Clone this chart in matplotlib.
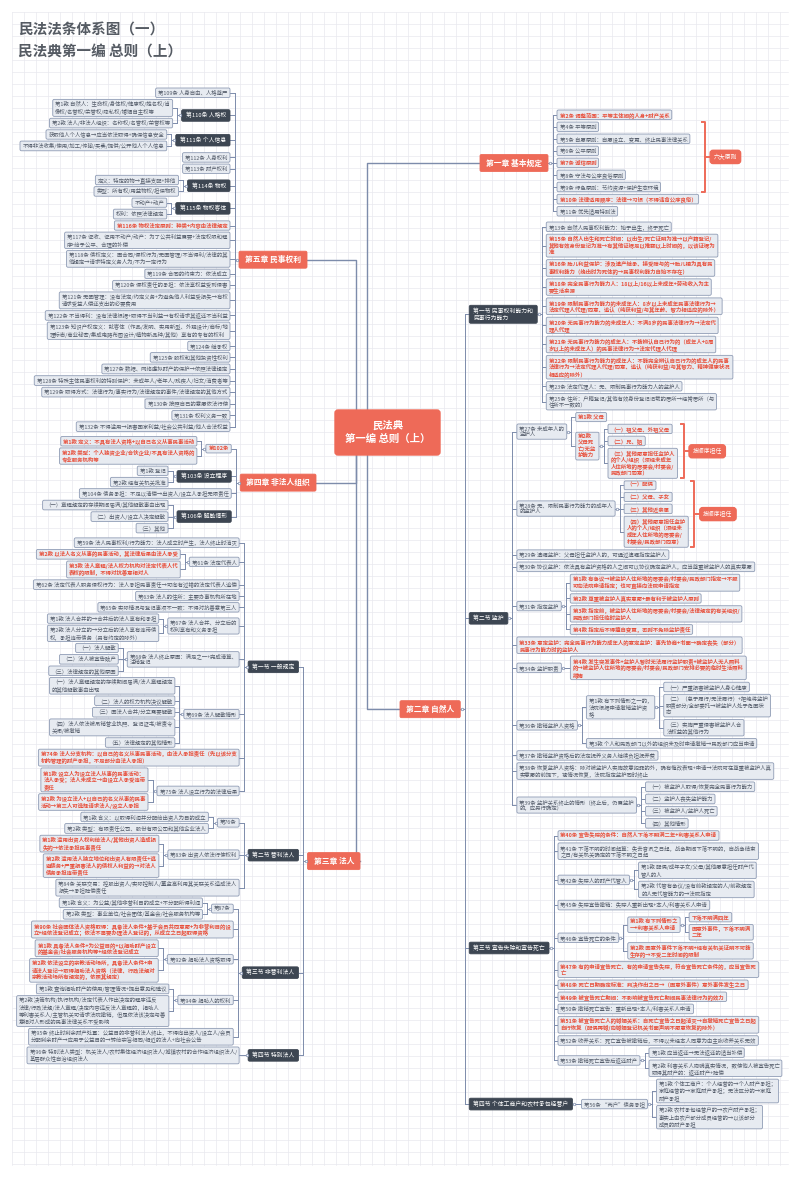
import matplotlib
matplotlib.use('Agg')
import matplotlib.pyplot as plt
from matplotlib.patches import FancyBboxPatch

plt.rcParams['font.family'] = ['Noto Sans CJK SC', 'DejaVu Sans']


def n(text, kind='n', kids=None, brace=None):
    return {'text': text, 'kind': kind, 'kids': kids or [], 'brace': brace}


# ---------------- data ----------------
title_lines = ['民法法条体系图（一）', '民法典第一编 总则（上）']
root_text = '民法典\n第一编 总则（上）'

ch5 = n('第五章 民事权利', 'c', [
    n('第109条 人身自由、人格尊严'),
    n('第110条 人格权', 'd', [
        n('第1款 自然人：生命权/身体权/健康权/姓名权/肖\n像权/名誉权/荣誉权/隐私权/婚姻自主权等'),
        n('第2款 法人/非法人组织：名称权/名誉权/荣誉权等')]),
    n('第111条 个人信息', 'd', [
        n('获取他人个人信息→应当依法取得+确保信息安全'),
        n('不得非法收集/使用/加工/传输/买卖/提供/公开他人个人信息')]),
    n('第112条 人身权利'),
    n('第113条 财产权利'),
    n('第114条 物权', 'd', [
        n('定义：特定的物→直接支配+排他'),
        n('类型：所有权/用益物权/担保物权')]),
    n('第115条 物权客体', 'd', [
        n('不动产+动产'),
        n('权利：依照法律规定')]),
    n('第116条 物权法定原则：种类+内容由法律规定', 'r'),
    n('第117条 征收、征用不动产/动产：为了公共利益需要+法定权限和程\n序+给予公平、合理的补偿'),
    n('第118条 债权定义：因合同/侵权行为/无因管理/不当得利/法律的其\n他规定→请求特定义务人为/不为一定行为'),
    n('第119条 合同的约束力：依法成立'),
    n('第120条 侵权责任的承担：依法享权益受到侵害'),
    n('第121条 无因管理：没有法定/约定义务+为避免他人利益受损失→有权\n请求受益人偿还支出的必要费用'),
    n('第122条 不当得利：没有法律根据+取得不当利益→有权请求其返还不当利益'),
    n('第123条 知识产权定义：就客体（作品/发明、实用新型、外观设计/商标/地\n理标志/商业秘密/集成电路布图设计/植物新品种/其他）享有的专有的权利'),
    n('第124条 继承权'),
    n('第125条 股权和其他投资性权利'),
    n('第127条 数据、网络虚拟财产的保护→依照法律规定'),
    n('第128条 特殊主体民事权利的特别保护：未成年人/老年人/残疾人/妇女/消费者等'),
    n('第129条 取得方式：法律行为/事实行为/法律规定的事件/法律规定的其他方式'),
    n('第130条 按照自己的意愿依法行使'),
    n('第131条 权利义务一致'),
    n('第132条 不得滥用→损害国家利益/社会公共利益/他人合法权益'),
])

ch4 = n('第四章 非法人组织', 'c', [
    n('第102条', 'r', [
        n('第1款 定义：不具有法人资格+以自己名义从事民事活动', 'r'),
        n('第2款 类型：个人独资企业/合伙企业/不具有法人资格的\n专业服务机构等', 'r')]),
    n('第103条 设立程序', 'd', [n('第1款 登记'), n('第2款 经有关机关批准')]),
    n('第104条 债务承担：不足以清偿→出资人/设立人承担无限责任'),
    n('第106条 解散情形', 'd', [
        n('（一）章程规定的存续期间届满/其他解散事由出现'),
        n('（二）出资人/设立人决定解散'),
        n('（三）其他')]),
])

ch3 = n('第三章 法人', 'c', [
    n('第一节 一般规定', 'd', [
        n('第59条 法人民事权利/行为能力：法人成立时产生，法人终止时消灭'),
        n('第61条 法定代表人', 'n', [
            n('第2款 以法人名义从事的民事活动，其法律后果由法人承受', 'r'),
            n('第3款 法人章程/法人权力机构对法定代表人代\n表权的限制，不得对抗善意相对人', 'r')]),
        n('第62条 法定代表人职务侵权行为：法人承担民事责任→可向有过错的法定代表人追偿'),
        n('第63条 法人的住所：主要办事机构所在地'),
        n('第65条 实际情况与登记事项不一致：不得对抗善意第三人'),
        n('第67条 法人合并、分立后的\n权利享有和义务承担', 'n', [
            n('第1款 法人合并的→合并后的法人享有和承担'),
            n('第2款 法人分立的→分立后的法人享有连带债\n权，承担连带债务（另有约定的除外）')]),
        n('第68条 法人终止原因：满足之一+完成清算、\n注销登记', 'n', [
            n('（一）法人解散'), n('（二）法人被宣告破产'), n('（三）法律规定的其他原因')]),
        n('第69条 法人解散情形', 'n', [
            n('（一）法人章程规定的存续期间届满/法人章程规定\n的其他解散事由出现'),
            n('（二）法人的权力机构决议解散'),
            n('（三）因法人合并/分立需要解散'),
            n('（四）法人依法被吊销营业执照、登记证书/被责令\n关闭/被撤销'),
            n('（五）法律规定的其他情形')]),
        n('第74条 法人分支机构：以自己的名义从事民事活动，由法人承担责任（先以该分支\n机构管理的财产承担，不足部分由法人承担）', 'r'),
        n('第75条 法人设立行为的法律后果', 'n', [
            n('第1款 设立人为设立法人从事的民事活动：\n法人承受；法人未成立→由设立人承受连带\n责任', 'r'),
            n('第2款 为设立法人+以自己的名义从事的民事\n活动→第三人可选择请求法人/设立人承担', 'r')]),
    ]),
    n('第二节 营利法人', 'd', [
        n('第76条', 'n', [
            n('第1款 含义：以取得利润并分配给出资人为目的成立'),
            n('第2款 类型：有限责任公司、股份有限公司和其他企业法人')]),
        n('第83条 出资人依法行使权利', 'n', [
            n('第1款 滥用出资人权利给法人/其他出资人造成损\n失的→依法承担民事责任', 'r'),
            n('第2款 滥用法人独立地位和出资人有限责任+逃\n避债务+严重损害法人的债权人利益的→对法人\n债务承担连带责任', 'r')]),
        n('第84条 关联交易：控股出资人/实际控制人/董监高利用其关联关系造成法人\n损失→承担赔偿责任'),
    ]),
    n('第三节 非营利法人', 'd', [
        n('第87条', 'n', [
            n('第1款 含义：为公益/其他非营利目的成立+不分配所得利润'),
            n('第2款 类型：事业单位/社会团体/基金会/社会服务机构等')]),
        n('第90条 社会团体法人资格取得：具备法人条件+基于会员共同意愿+为非营利目的设\n立+经依法登记成立；依法不需要办理法人登记的，从成立之日起取得资格', 'r'),
        n('第92条 捐助法人资格取得', 'n', [
            n('第1款 具备法人条件+为公益目的+以捐助财产设立\n的基金会/社会服务机构等+经依法登记成立', 'r'),
            n('第2款 依法设立的宗教活动场所，具备法人条件+申\n请法人登记→取得捐助法人资格（法律、行政法规对\n宗教活动场所有规定的，依照其规定）', 'r')]),
        n('第94条 捐助人的权利', 'n', [
            n('第1款 查询捐助财产的使用/管理情况+提出意见和建议'),
            n('第2款 决策机构/执行机构/法定代表人作出决定的程序违反\n法律/行政法规/法人章程/决定内容违反法人章程的，捐助人\n等利害关系人/主管机关可请求法院撤销，但是依法该决定与善\n意相对人形成的民事法律关系不受影响')]),
        n('第95条 终止时剩余财产处置：公益目的非营利法人终止，不得向出资人/设立人/会员\n分配剩余财产→应用于公益目的→转给宗旨相同/相近的法人+向社会公告'),
    ]),
    n('第四节 特别法人', 'd', [
        n('第96条 特别法人类型：机关法人/农村集体经济组织法人/城镇农村的合作经济组织法人/\n基层群众性自治组织法人')]),
])

ch1 = n('第一章 基本规定', 'c', [
    n('第2条 调整范围：平等主体间的人身+财产关系', 'r'),
    n('第4条 平等原则'),
    n('第5条 自愿原则：自愿设立、变更、终止民事法律关系'),
    n('第6条 公平原则'),
    n('第7条 诚信原则', 'r'),
    n('第8条 守法与公序良俗原则'),
    n('第9条 绿色原则：节约资源+保护生态环境'),
    n('第10条 法律适用顺序：法律→习惯（不得违背公序良俗）', 'r'),
    n('第11条 优先适用特别法'),
], brace=(1, 6, '六大原则'))

ch2 = n('第二章 自然人', 'c', [
    n('第一节 民事权利能力和\n民事行为能力', 'd', [
        n('第13条 自然人民事权利能力：始于出生，终于死亡'),
        n('第15条 自然人出生和死亡时间：以出生/死亡证明为准→以户籍登记/\n其他有效身份登记为准→有其他证据足以推翻以上时间的，以该证据为\n准', 'r'),
        n('第16条 胎儿利益保护：涉及遗产继承、接受赠与的→胎儿视为具有民\n事权利能力（娩出时为死体的→民事权利能力自始不存在）', 'r'),
        n('第18条 完全民事行为能力人：18以上/16以上未成年+劳动收入为主\n要生活来源', 'r'),
        n('第19条 限制民事行为能力的未成年人：8岁以上未成年民事法律行为→\n法定代理人代理/同意、追认（纯获利益/与其年龄、智力相适应的除外）', 'r'),
        n('第20条 无民事行为能力的未成年人：不满8岁的民事法律行为→法定代\n理人代理', 'r'),
        n('第21条 无民事行为能力的成年人：不能辨认自己行为的（成年人+8周\n岁以上的未成年人）的民事法律行为→法定代理人代理', 'r'),
        n('第22条 限制民事行为能力的成年人：不能完全辨认自己行为的成年人的民事\n法律行为→法定代理人代理/同意、追认（纯获利益/与其智力、精神健康状况\n相适应的除外）', 'r'),
        n('第23条 法定代理人：无、限制民事行为能力人的监护人'),
        n('第25条 住所：户籍登记/其他有效身份登记记载的居所→经常居所（与\n住所不一致的）'),
    ]),
    n('第二节 监护', 'd', [
        n('第27条 未成年人的\n监护人', 'n', [
            n('第1款 父母', 'r'),
            n('第2款\n父母死\n亡/无监\n护能力', 'r', [
                n('（一）祖父母、外祖父母', 'r'),
                n('（二）兄、姐', 'r'),
                n('（三）其他愿意担任监护人\n的个人/组织（须经未成年\n人住所地的居委会/村委会/\n民政部门同意）', 'r')], brace=(0, 2, '按顺序担任'))]),
        n('第28条 无、限制民事行为能力的成年人\n的监护人', 'n', [
            n('（一）配偶', 'r'),
            n('（二）父母、子女', 'r'),
            n('（三）其他近亲属', 'r'),
            n('（四）其他愿意担任监护\n人的个人/组织（须经未\n成年人住所地的居委会/\n村委会/民政部门同意）', 'r')], brace=(0, 3, '按顺序担任')),
        n('第29条 遗嘱监护：父母担任监护人的，可通过遗嘱指定监护人'),
        n('第30条 协议监护：依法具有监护资格的人之间可以协议确定监护人，应当尊重被监护人的真实意愿'),
        n('第31条 指定监护', 'n', [
            n('第1款 有争议→被监护人住所地的居委会/村委会/民政部门指定→不服\n可向法院申请指定；也可直接向法院申请指定', 'r'),
            n('第2款 尊重被监护人真实意愿+最有利于被监护人原则', 'r'),
            n('第3款 指定前，被监护人住所地的居委会/村委会/法律规定的有关组织/\n民政部门担任临时监护人', 'r'),
            n('第4款 指定后不得擅自变更，否则不免除监护责任', 'r')]),
        n('第33条 意定监护：完全民事行为能力成年人的意定监护：事先协商+书面→确定丧失（部分）\n民事行为能力时的监护人', 'r'),
        n('第34条 监护职责', 'n', [
            n('第4款 发生突发事件+监护人暂时无法履行监护职责+被监护人无人照料\n的→被监护人住所地的居委会/村委会/民政部门安排必要的临时生活照料\n措施', 'r')]),
        n('第36条 撤销监护人资格', 'n', [
            n('第1款 有下列情形之一的，\n法院根据申请撤销监护资\n格', 'n', [
                n('（一）严重损害被监护人身心健康'),
                n('（二）（怠于履行/无法履行）+拒绝将监护\n职责部分/全部委托→被监护人处于危困状\n态'),
                n('（三）实施严重侵害被监护人合\n法权益的其他行为')]),
            n('第3款 个人和民政部门以外的组织未及时申请撤销→民政部门应当申请')]),
        n('第37条 撤销监护资格后的法定抚养义务人继续负担抚养费'),
        n('第38条 恢复监护人资格：除对被监护人实施故意犯罪的外，确有悔改表现+申请→法院可在尊重被监护人真\n实意愿的前提下，视情况恢复，法院指定监护同时终止'),
        n('第39条 监护关系终止的情形（终止后，仍需监护\n的，应另行确定）', 'n', [
            n('（一）被监护人取得/恢复完全民事行为能力'),
            n('（二）监护人丧失监护能力'),
            n('（三）被监护人/监护人死亡'),
            n('（四）其他情形')]),
    ]),
    n('第三节 宣告失踪和宣告死亡', 'd', [
        n('第40条 宣告失踪的条件：自然人下落不明满二年+利害关系人申请', 'r'),
        n('第41条 下落不明的时间起算：失去音讯之日起，战争期间下落不明的，自战争结束\n之日/有关机关确定的下落不明之日起'),
        n('第42条 失踪人的财产代管人', 'n', [
            n('第1款 配偶/成年子女/父母/其他愿意担任财产代\n管人的人'),
            n('第2款 代管有争议/没有前款规定的人/前款规定\n的人无代管能力的→法院指定')]),
        n('第45条 失踪宣告撤销：失踪人重新出现+本人/利害关系人申请'),
        n('第46条 宣告死亡的条件', 'n', [
            n('第1款 有下列情形之\n一+利害关系人申请', 'r', [
                n('下落不明满四年', 'r'),
                n('因意外事件，下落不明满\n二年', 'r')]),
            n('第2款 因意外事件下落不明+经有关机关证明不可能\n生存的→不受二年时间的限制', 'r')]),
        n('第47条 有的申请宣告死亡、有的申请宣告失踪，符合宣告死亡条件的，应当宣告死\n亡', 'r'),
        n('第48条 死亡日期确定标准：判决作出之日→（因意外事件）意外事件发生之日', 'r'),
        n('第49条 被宣告死亡期间：不影响被宣告死亡期间民事法律行为的效力', 'r'),
        n('第50条 撤销死亡宣告：重新出现+本人/利害关系人申请'),
        n('第51条 被宣告死亡人的婚姻关系：自死亡宣告之日起消灭→自撤销死亡宣告之日起\n自行恢复（配偶再婚/向婚姻登记机关书面声明不愿意恢复的除外）', 'r'),
        n('第52条 收养关系：死亡宣告被撤销后，不得以未经本人同意为由主张收养关系无效'),
        n('第53条 撤销死亡宣告后返还财产', 'n', [
            n('第1款 应当返还→无法返还的适当补偿'),
            n('第2款 利害关系人隐瞒真实情况，致使他人被宣告死亡\n取得其财产的：返还财产+赔偿')]),
    ]),
    n('第四节 个体工商户和农村承包经营户', 'd', [
        n('第56条 “两户”债务承担', 'n', [
            n('第1款 个体工商户：个人经营的→个人财产承担；\n家庭经营的→家庭财产承担；无法区分的→家庭\n财产承担'),
            n('第2款 农村承包经营户的→农户财产承担；\n事实上由农户部分成员经营的→以该部分\n成员的财产承担')])]),
])

left_chapters = [ch5, ch4, ch3]
right_chapters = [ch1, ch2]

# ---------------- layout / style ----------------
W, H = 800, 1179
fig = plt.figure(figsize=(W / 100, H / 100), dpi=100)
ax = fig.add_axes([0, 0, 1, 1])
ax.set_xlim(0, W)
ax.set_ylim(H, 0)
ax.axis('off')
renderer = fig.canvas.get_renderer()

LINE = '#7d8cab'
RED = '#ee6a58'
STY = {
    'n': dict(fc='#e7ebf1', ec='#8f9cb5', tc='#555d6b', fs=3.9, w='normal', px=2.5, py=1.8),
    'r': dict(fc='#e7ebf1', ec='#8f9cb5', tc='#e8503c', fs=3.9, w='bold', px=2.5, py=1.8),
    'd': dict(fc='#3d4652', ec='#3d4652', tc='white', fs=4.2, w='normal', px=4, py=2.7),
    'c': dict(fc=RED, ec=RED, tc='white', fs=5.6, w='bold', px=6, py=4),
}
GAP_X = 9


def measure(node):
    s = STY[node['kind']]
    t = ax.text(0, 0, node['text'], fontsize=s['fs'], fontweight=s['w'], linespacing=1.22)
    bb = t.get_window_extent(renderer)
    t.remove()
    node['w'] = bb.width + 2 * s['px']
    node['h'] = bb.height + 2 * s['py']
    for k in node['kids']:
        measure(k)


def sub_h(node, gy):
    if not node['kids']:
        node['sh'] = node['h']
    else:
        tot = sum(sub_h(k, gy) for k in node['kids']) + gy * (len(node['kids']) - 1)
        node['ch'] = tot
        node['sh'] = max(tot, node['h'])
    return node['sh']


def place(node, edge, top, side, gy):
    # side=-1: edge is right edge; side=+1: edge is left edge
    node['x0'] = edge - node['w'] if side < 0 else edge
    node['x1'] = node['x0'] + node['w']
    if node['kids']:
        cur = top + (node['sh'] - node['ch']) / 2
        cedge = node['x0'] - GAP_X if side < 0 else node['x1'] + GAP_X
        for k in node['kids']:
            place(k, cedge, cur, side, gy)
            cur += k['sh'] + gy
        node['cy'] = (node['kids'][0]['cy'] + node['kids'][-1]['cy']) / 2
    else:
        node['cy'] = top + node['h'] / 2


def draw_links(node, side):
    if not node['kids']:
        return
    pe = node['x0'] if side < 0 else node['x1']
    ce = node['kids'][0]['x1'] if side < 0 else node['kids'][0]['x0']
    sx = (pe + ce) / 2
    ys = [k['cy'] for k in node['kids']]
    ax.plot([pe, sx], [node['cy'], node['cy']], color=LINE, lw=0.7, zorder=1)
    ax.plot([sx, sx], [min(ys), max(ys)], color=LINE, lw=0.7, zorder=1)
    for k in node['kids']:
        ke = k['x1'] if side < 0 else k['x0']
        ax.plot([sx, ke], [k['cy'], k['cy']], color=LINE, lw=0.7, zorder=1)
        draw_links(k, side)
    ax.plot(pe + side * 1.6, node['cy'], 'o', ms=1.8, mfc='white', mec=LINE, mew=0.5, zorder=3)


def draw_nodes(node):
    s = STY[node['kind']]
    y0 = node['cy'] - node['h'] / 2
    ax.add_patch(FancyBboxPatch((node['x0'], y0), node['w'], node['h'],
                                boxstyle='round,pad=0,rounding_size=1.5',
                                fc=s['fc'], ec=s['ec'], lw=0.6, zorder=2))
    ax.text(node['x0'] + s['px'], node['cy'], node['text'], fontsize=s['fs'],
            fontweight=s['w'], color=s['tc'], va='center', ha='left',
            linespacing=1.22, zorder=3)
    if node['brace']:
        i, j, lab = node['brace']
        kids = node['kids']
        bx = max(k['x1'] for k in kids) + 6
        ya = kids[i]['cy'] - kids[i]['h'] / 2
        yb = kids[j]['cy'] + kids[j]['h'] / 2
        ax.plot([bx - 3, bx, bx, bx - 3], [ya, ya, yb, yb], color=RED, lw=1.4, zorder=2)
        ym = (ya + yb) / 2
        ax.plot([bx, bx + 6], [ym, ym], color=RED, lw=1.4, zorder=2)
        ax.text(bx + 9, ym, lab, fontsize=4.2, style='italic', color='white',
                va='center', ha='left', zorder=4,
                bbox=dict(boxstyle='round,pad=0.6,rounding_size=0.5', fc=RED, ec=RED))
    for k in node['kids']:
        draw_nodes(k)


# background grid
for gx in range(12, 789, 12):
    ax.plot([gx, gx], [12, 1165], color='#e9e9ef', lw=0.5, zorder=0)
for gy in range(12, 1166, 12):
    ax.plot([12, 788], [gy, gy], color='#e9e9ef', lw=0.5, zorder=0)

for ch in left_chapters + right_chapters:
    measure(ch)

# left side: chapters stacked one after another
left_edges = [307, 316, 360]
top = 88
for ch, e in zip(left_chapters, left_edges):
    sub_h(ch, 1.9)
    place(ch, e, top, -1, 1.9)
    top += ch['sh'] + 5

right_edges = [480, 400]
top = 110
for ch, e in zip(right_chapters, right_edges):
    sub_h(ch, 2.6)
    place(ch, e, top, 1, 2.6)
    top += ch['sh'] + 6

# root
rx0, rx1, ry0, ry1 = 335, 440, 410, 455
rcy = (ry0 + ry1) / 2
for ch in left_chapters:
    ax.plot([ch['x1'], 356, 356], [ch['cy'], ch['cy'], rcy], color=LINE, lw=1.0, zorder=1)
for ch in right_chapters:
    ax.plot([ch['x0'], 367, 367], [ch['cy'], ch['cy'], rcy], color=LINE, lw=1.0, zorder=1)
ax.add_patch(FancyBboxPatch((rx0, ry0), rx1 - rx0, ry1 - ry0,
                            boxstyle='round,pad=0,rounding_size=3', fc=RED, ec=RED, zorder=5))
ax.text((rx0 + rx1) / 2, rcy, root_text, fontsize=7.5, fontweight='bold', color='white',
        ha='center', va='center', linespacing=1.4, zorder=6)

for ch in left_chapters:
    draw_links(ch, -1)
    draw_nodes(ch)
for ch in right_chapters:
    draw_links(ch, 1)
    draw_nodes(ch)

ax.text(18, 30, title_lines[0], fontsize=10.5, fontweight='bold', color='#555b63', va='center')
ax.text(18, 52, title_lines[1], fontsize=10.5, fontweight='bold', color='#555b63', va='center')

fig.savefig('out.png', dpi=100, facecolor='white')
